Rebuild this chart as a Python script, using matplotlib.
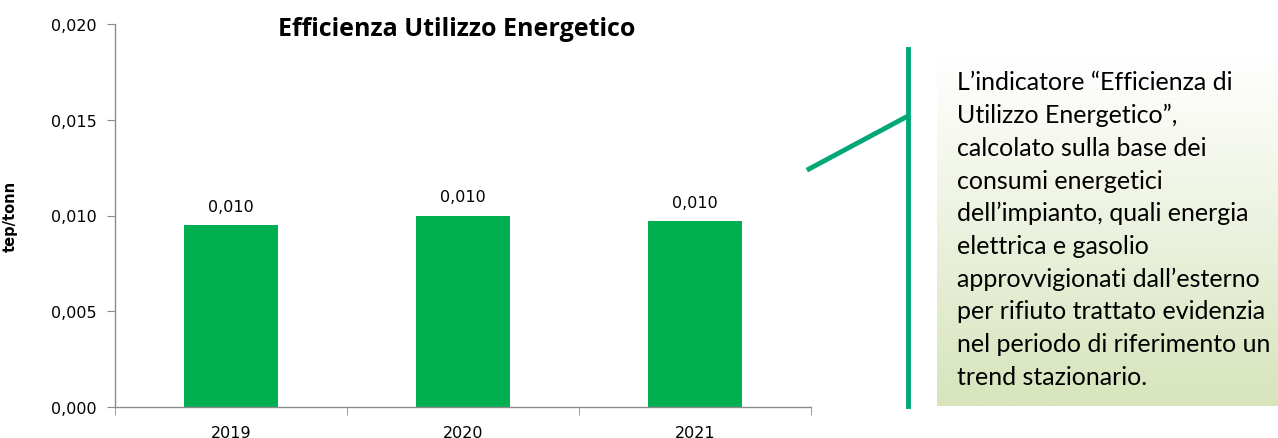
import numpy as np
import matplotlib.pyplot as plt
from matplotlib.ticker import FuncFormatter, FixedLocator

# data
years = ['2019', '2020', '2021']
values = [0.0095, 0.0100, 0.0097]
labels = ['0,010', '0,010', '0,010']
yticks = [0.0, 0.005, 0.010, 0.015, 0.020]

note_lines = [
    "L\u2019indicatore \u201cEfficienza di",
    "Utilizzo Energetico\u201d,",
    "calcolato sulla base dei",
    "consumi energetici",
    "dell\u2019impianto, quali energia",
    "elettrica e gasolio",
    "approvvigionati dall\u2019esterno",
    "per rifiuto trattato evidenzia",
    "nel periodo di riferimento un",
    "trend stazionario.",
]

W, H = 1278, 439
fig = plt.figure(figsize=(W / 100, H / 100), dpi=100)

def px(x0, y0, x1, y1):
    # pixel box (top-left origin) -> figure fraction rect
    return [x0 / W, 1 - y1 / H, (x1 - x0) / W, (y1 - y0) / H]

ax = fig.add_axes(px(115, 25, 811, 408))
x = np.arange(len(years))
ax.bar(x, values, width=0.405, color='#00B050', zorder=2)

ax.set_xlim(-0.5, 2.5)
ax.set_ylim(0, 0.020)
ax.set_yticks(yticks)
ax.yaxis.set_major_formatter(FuncFormatter(lambda v, p: f"{v:.3f}".replace('.', ',')))
ax.set_xticks(x)
ax.set_xticklabels(years)
ax.xaxis.set_minor_locator(FixedLocator(np.arange(-0.5, len(years), 1.0)))

for s in ['top', 'right']:
    ax.spines[s].set_visible(False)
for s in ['left', 'bottom']:
    ax.spines[s].set_color('#8c8c8c')
    ax.spines[s].set_linewidth(1.0)

ax.tick_params(axis='y', direction='out', length=6, color='#8c8c8c', labelsize=11.5, pad=7)
ax.tick_params(axis='x', which='major', length=0, labelsize=11.5, pad=13)
ax.tick_params(axis='x', which='minor', direction='out', length=6, color='#8c8c8c')

for xi, v, lab in zip(x, values, labels):
    ax.annotate(lab, (xi, v), xytext=(0, 8), textcoords='offset points',
                ha='center', va='bottom', fontsize=11.5)

ax.set_ylabel('tep/tonn', fontsize=10.5, fontweight='bold')
ax.yaxis.set_label_coords((18 - 115) / 696, 0.5)
fig.text(457 / W, 1 - 30 / H, 'Efficienza Utilizzo Energetico', ha='center', va='center',
         fontsize=18, fontweight='bold', family='Open Sans')

# gradient note box
bx = fig.add_axes(px(937, 60, 1278, 407))
grad = np.linspace(0, 1, 256)[:, None]
top = np.array([1.0, 1.0, 1.0])
bot = np.array([0xD7, 0xE4, 0xBC]) / 255
img = top[None, None, :] * (1 - grad[..., None]) + bot[None, None, :] * grad[..., None]
img = np.repeat(img, 2, axis=1)
bx.imshow(img, aspect='auto', extent=[0, 1, 0, 1], origin='upper')
bx.set_axis_off()

y0 = 83
for i, line in enumerate(note_lines):
    fig.text(957 / W, 1 - (y0 + i * 32.7) / H, line, ha='left', va='center',
             fontsize=18, family='Lato')

# connector lines
green = '#00A878'
fig.add_artist(plt.Line2D([908 / W, 908 / W], [1 - 50 / H, 1 - 407 / H],
                          color=green, linewidth=3.5, transform=fig.transFigure))
fig.add_artist(plt.Line2D([809 / W, 908 / W], [1 - 170 / H, 1 - 117 / H],
                          color=green, linewidth=3.5, transform=fig.transFigure))

fig.savefig('out.png', dpi=100)
